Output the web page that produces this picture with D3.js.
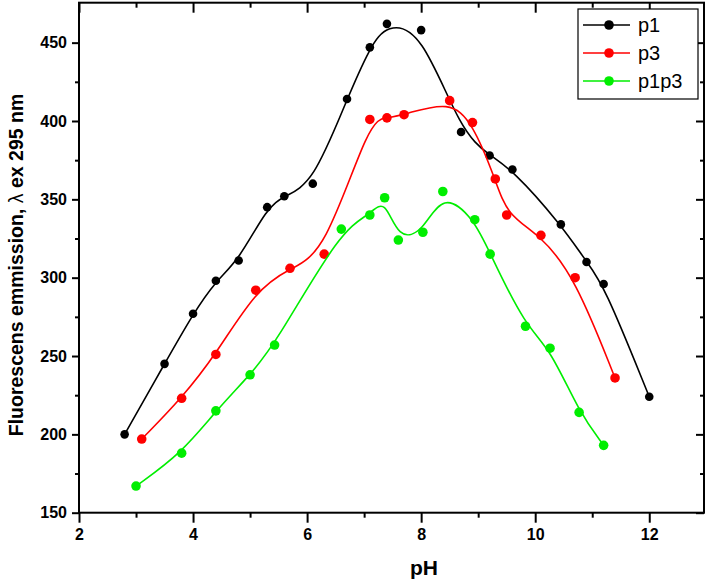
<!DOCTYPE html>
<html>
<head>
<meta charset="utf-8">
<script src="https://cdn.jsdelivr.net/npm/d3@7"></script>
<style>
    body { margin: 0; background: #fff; }
    svg { display: block; font-family: "Liberation Sans", Arial, sans-serif; }
</style>
</head>
<body>
<svg id="chart" width="708" height="586"></svg>
<script>
// pH values and emission
const p1pH = [2.8, 3.5, 4.0, 4.4, 4.8, 5.3, 5.6, 6.1, 6.7, 7.1, 7.4, 8.0, 8.7, 9.2, 9.6, 10.45, 10.9, 11.2, 12.0];
const p1Val = [200, 245, 277, 298, 311, 345, 352, 360, 414, 447, 462, 458, 393, 378, 369, 334, 310, 296, 224];

const p3pH = [3.1, 3.8, 4.4, 5.1, 5.7, 6.3, 7.1, 7.4, 7.7, 8.5, 8.9, 9.3, 9.5, 10.1, 10.7, 11.4];
const p3Val = [197, 223, 251, 292, 306, 315, 401, 402, 404, 413, 399, 363, 340, 327, 300, 236];

const p1p3pH = [3.0, 3.8, 4.4, 5.0, 5.43, 6.6, 7.1, 7.36, 7.6, 8.03, 8.38, 8.94, 9.21, 9.83, 10.26, 10.77, 11.2];
const p1p3Val = [167, 188, 215, 238, 257, 331, 340, 351, 324, 329, 355, 337, 315, 269, 255, 214, 193];

const seriesNames = ["p1", "p3", "p1p3"];
const seriesColors = ["#000000", "#ff0000", "#00ee00"];

const xMajor = [2, 4, 6, 8, 10, 12];
const xMinor = [3, 5, 7, 9, 11];
const yMajor = [150, 200, 250, 300, 350, 400, 450];
const yMinor = [175, 225, 275, 325, 375, 425];

const W = 708, H = 586;
const plot = { left: 79, right: 704, top: 2.7, bottom: 512.7 };

const x = d3.scaleLinear().domain([2, 12.96]).range([plot.left, plot.right]);
const y = d3.scaleLinear().domain([150, 475.5]).range([plot.bottom, plot.top]);

const svg = d3.select("#chart").attr("viewBox", `0 0 ${W} ${H}`);

const series = [
    { name: seriesNames[0], color: seriesColors[0], r: 4.3, pts: p1pH.map((v, i) => ({ x: v, y: p1Val[i] })) },
    { name: seriesNames[1], color: seriesColors[1], r: 4.8, pts: p3pH.map((v, i) => ({ x: v, y: p3Val[i] })) },
    { name: seriesNames[2], color: seriesColors[2], r: 4.8, pts: p1p3pH.map((v, i) => ({ x: v, y: p1p3Val[i] })) }
];

const line = d3.line()
        .curve(d3.curveBasis)
        .x(d => x(d.x))
        .y(d => y(d.y));

// curves and points
const g = svg.append("g").attr("class", "data");
series.forEach(s => {
    g.append("path")
            .datum(s.pts)
            .attr("d", line)
            .attr("fill", "none")
            .attr("stroke", s.color)
            .attr("stroke-width", 1.6);
    g.selectAll(null)
            .data(s.pts)
            .join("circle")
            .attr("cx", d => x(d.x))
            .attr("cy", d => y(d.y))
            .attr("r", s.r)
            .attr("fill", s.color);
});

// axes: bottom/left outward, top/right mirrored inward
function styleAxis(a) {
    a.select(".domain").remove();
    a.selectAll("line").attr("stroke", "#000").attr("stroke-width", 2);
    a.selectAll("text")
            .attr("font-size", 16)
            .attr("font-weight", "bold")
            .attr("fill", "#000");
}

const axBottom = svg.append("g").attr("transform", `translate(0,${plot.bottom})`);
axBottom.call(d3.axisBottom(x).tickValues(xMajor).tickSize(10).tickPadding(6).tickFormat(d3.format("d"))).call(styleAxis);
axBottom.append("g").call(d3.axisBottom(x).tickValues(xMinor).tickSize(5).tickFormat("")).call(styleAxis);

const axLeft = svg.append("g").attr("transform", `translate(${plot.left},0)`);
axLeft.call(d3.axisLeft(y).tickValues(yMajor).tickSize(7).tickPadding(5).tickFormat(d3.format("d"))).call(styleAxis);
axLeft.append("g").call(d3.axisLeft(y).tickValues(yMinor).tickSize(4).tickFormat("")).call(styleAxis);

const axTop = svg.append("g").attr("transform", `translate(0,${plot.top})`);
axTop.call(d3.axisBottom(x).tickValues(xMajor).tickSize(10).tickFormat("")).call(styleAxis);
axTop.append("g").call(d3.axisBottom(x).tickValues(xMinor).tickSize(5).tickFormat("")).call(styleAxis);

const axRight = svg.append("g").attr("transform", `translate(${plot.right},0)`);
axRight.call(d3.axisLeft(y).tickValues(yMajor).tickSize(8).tickFormat("")).call(styleAxis);
axRight.append("g").call(d3.axisLeft(y).tickValues(yMinor).tickSize(4).tickFormat("")).call(styleAxis);

// frame
svg.append("rect")
        .attr("x", plot.left)
        .attr("y", plot.top)
        .attr("width", plot.right - plot.left)
        .attr("height", plot.bottom - plot.top)
        .attr("fill", "none")
        .attr("stroke", "#000")
        .attr("stroke-width", 2);

// axis titles
svg.append("text")
        .attr("x", 424)
        .attr("y", 575)
        .attr("text-anchor", "middle")
        .attr("font-size", 21)
        .attr("font-weight", "bold")
        .text("pH");

const yt = svg.append("text")
        .attr("transform", "translate(23,265) rotate(-90)")
        .attr("text-anchor", "middle")
        .attr("font-size", 19.5)
        .attr("font-weight", "bold");
yt.append("tspan").text("Fluorescens emmission, ");
yt.append("tspan").attr("font-weight", "normal").text("λ");
yt.append("tspan").text(" ex 295 nm");

// legend
const leg = svg.append("g").attr("transform", "translate(578,9)");
leg.append("rect")
        .attr("width", 120)
        .attr("height", 90)
        .attr("fill", "#fff")
        .attr("stroke", "#000")
        .attr("stroke-width", 1.2);
series.forEach((s, i) => {
    const row = leg.append("g").attr("transform", `translate(0,${16 + i * 28})`);
    row.append("line").attr("x1", 5).attr("x2", 52).attr("stroke", s.color).attr("stroke-width", 1.6);
    row.append("circle").attr("cx", 31).attr("r", 4.8).attr("fill", s.color);
    row.append("text")
            .attr("x", 60)
            .attr("y", 7)
            .attr("font-size", 20)
            .text(s.name);
});
</script>
</body>
</html>
